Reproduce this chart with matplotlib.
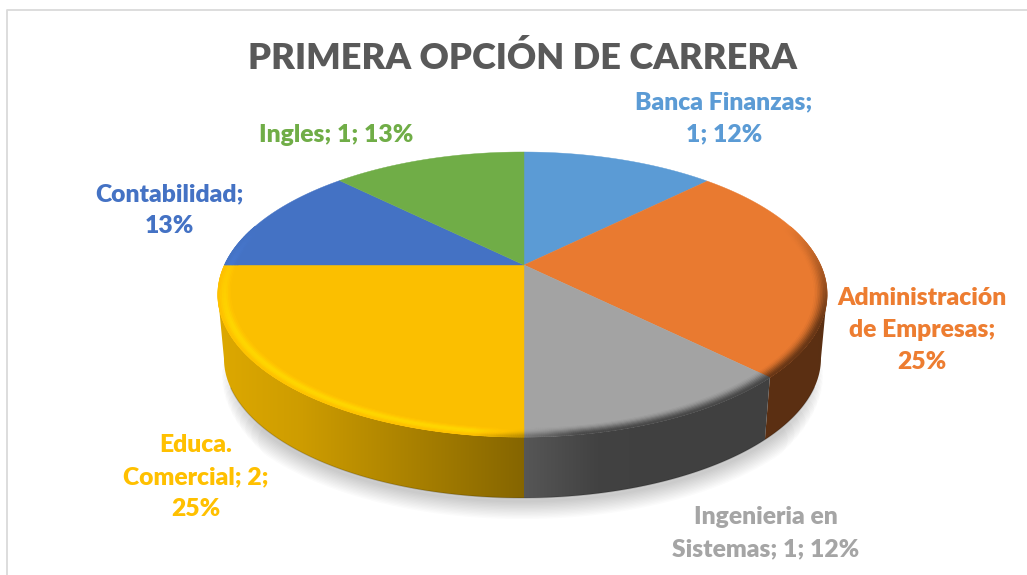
import numpy as np
import matplotlib
matplotlib.use('Agg')
import matplotlib.pyplot as plt
from matplotlib.collections import PolyCollection
from matplotlib.patches import Polygon

title = 'PRIMERA OPCIÓN DE CARRERA'
carreras = ['Banca Finanzas', 'Administración de Empresas', 'Ingenieria en Sistemas',
            'Educa. Comercial', 'Contabilidad', 'Ingles']
valores = [1, 2, 1, 2, 1, 1]
colores = ['#5B9BD5', '#E97A30', '#A3A3A3', '#FBBF00', '#4472C4', '#70AD47']
colores_txt = ['#5B9BD5', '#ED7D31', '#A5A5A5', '#FFC000', '#4472C4', '#70AD47']
etiquetas = ['Banca Finanzas;\n1; 12%', 'Administración\nde Empresas;\n25%',
             'Ingenieria en\nSistemas; 1; 12%', 'Educa.\nComercial; 2;\n25%',
             'Contabilidad;\n13%', 'Ingles; 1; 13%']
pos_etiquetas = [(724, 118), (922, 330), (766, 533), (196, 477), (169, 210), (336, 135)]

plt.rcParams['font.family'] = ['Lato', 'DejaVu Sans']

fig = plt.figure(figsize=(10.27, 5.75), dpi=100)
ax = fig.add_axes([0, 0, 1, 1])
ax.axis('off')


# perspectiva del disco: r=1 borde, theta=0 arriba, sentido horario
def proyecta(theta, r=1.0, s=1.0, dy=0.0):
    u = r * np.sin(theta)
    v = r * np.cos(theta)
    w = 1 + 0.207 * v + 0.005 * u
    return 524 + s * 298 * u / w, 265 + dy - s * 136.4 * v / w


def luz(x):
    return np.interp(x, [220, 300, 524, 600, 830], [0.88, 0.82, 0.53, 0.40, 0.39])


fracs = np.array(valores) / sum(valores)
limites = np.concatenate([[0], np.cumsum(fracs)]) * 2 * np.pi
rgb = np.array([matplotlib.colors.to_rgb(c) for c in colores])


def slice_de(theta):
    return min(np.searchsorted(limites, theta, side='right') - 1, len(valores) - 1)


# marco
ax.plot([6.5, 6.5, 1027], [575, 9.5, 9.5], color='#DADADA', lw=1.3, zorder=1)

# sombra, las pasadas anchas abarcan menos arco para que se desvanezca en los lados
for lw in np.arange(26, 1, -2):
    margen = 0.56 + lw * 0.007
    th = np.linspace(np.pi * margen, np.pi * (2 - margen), 300)
    xb, yb = proyecta(th, s=0.98, dy=65.5)
    ax.plot(xb, yb + 2, color='black', alpha=0.014, lw=lw, solid_capstyle='round', zorder=2)

# lateral, un degradado por porcion (entre los extremos de la silueta)
ini_vis, fin_vis = np.arccos(-0.207), 2 * np.pi - np.arccos(-0.207)
xs = np.arange(200, 850)
for i in range(len(valores)):
    a, b = max(limites[i], ini_vis), min(limites[i + 1], fin_vis)
    if a >= b:
        continue
    t = np.linspace(a, b, 200)
    x1, y1 = proyecta(t)
    x2, y2 = proyecta(t[::-1], s=0.98, dy=64.4)
    poly = Polygon(np.column_stack([np.r_[x1, x2], np.r_[y1, y2]]), closed=True,
                   transform=ax.transData, fc='none', ec='none')
    ax.add_patch(poly)
    img = np.clip(rgb[i] * luz(xs)[:, None], 0, 1)[None, :, :]
    im = ax.imshow(img, extent=(200, 850, 520, 250), aspect='auto', zorder=3, interpolation='bilinear')
    im.set_clip_path(poly)

# borde inferior oscuro
dt = np.linspace(0, 2 * np.pi, 1081)
xb, yb = proyecta(dt, s=0.98, dy=64.4)
ax.plot(np.where(np.cos(dt) < -0.4, xb, np.nan), yb, color='black', alpha=0.16, lw=1, zorder=4)

# caras superiores
for i in range(len(valores)):
    t = np.linspace(limites[i], limites[i + 1], 200)
    x, y = proyecta(t)
    ax.fill(np.r_[524, x], np.r_[265, y], color=colores[i], lw=0.3, zorder=5)

# bisel del borde
radios = np.linspace(0.955, 1.0, 10)
ganancia_izq = np.array([1.0, 1.02, 1.05, 1.09, 1.12, 1.12, 1.10, 1.06, 1.02, 0.98])
ganancia_der = np.array([1.0, 0.97, 0.92, 0.85, 0.76, 0.67, 0.58, 0.50, 0.45, 0.42])
quads, cols = [], []
for k in range(len(radios) - 1):
    for a, b in zip(dt[:-1], dt[1:]):
        m = (a + b) / 2
        fuerza = np.clip((0.3 - np.cos(m)) / 0.7, 0, 1)
        if fuerza <= 0:
            continue
        x1, y1 = proyecta(np.array([a, b]), r=radios[k])
        x2, y2 = proyecta(np.array([b, a]), r=radios[k + 1])
        xm = proyecta(m)[0]
        mezcla = np.clip((xm - 470) / 110, 0, 1)
        g = (1 - mezcla) * ganancia_izq[k] + mezcla * ganancia_der[k]
        g = 1 + (g - 1) * fuerza
        quads.append(np.column_stack([np.r_[x1, x2], np.r_[y1, y2]]))
        cols.append(np.clip(rgb[slice_de(m)] * g, 0, 1))
ax.add_collection(PolyCollection(quads, facecolors=cols, edgecolors=cols, linewidths=0.5, zorder=6))

# textos
ax.text(523, 58, title, ha='center', va='center', color='#595959', fontsize=26.1, fontweight='heavy', zorder=8)
for txt, (x, y), c in zip(etiquetas, pos_etiquetas, colores_txt):
    ax.text(x, y, txt, ha='center', va='center', color=c, fontsize=17.7, fontweight='heavy',
            linespacing=1.55, zorder=8)

ax.set_xlim(0, 1027)
ax.set_ylim(575, 0)
fig.savefig('out.png', dpi=100)
